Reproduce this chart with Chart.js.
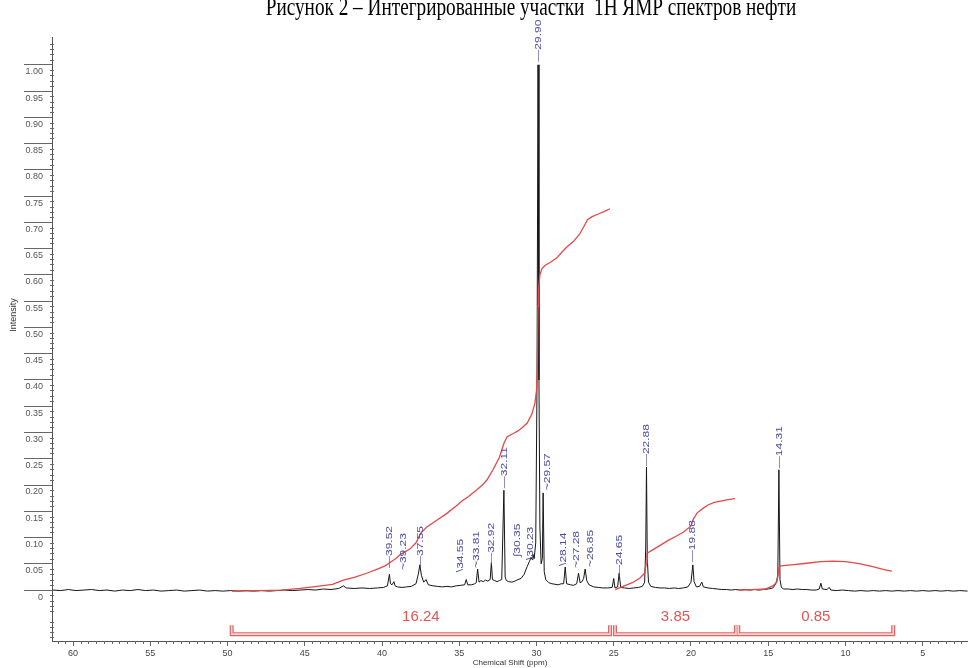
<!DOCTYPE html>
<html><head><meta charset="utf-8">
<script src="https://cdn.jsdelivr.net/npm/chart.js@4"></script>
<style>html,body{margin:0;padding:0;background:#fff;}canvas{display:block;}</style>
</head><body>
<canvas id="c" width="968" height="668"></canvas>
<script>
const TITLE = 'Рисунок 2 – Интегрированные участки  1Н ЯМР спектров нефти';
const X_TITLE = 'Chemical Shift (ppm)';
const Y_TITLE = 'Intensity';
const X_TICKS = [60, 55, 50, 45, 40, 35, 30, 25, 20, 15, 10, 5];
const Y_TICKS = [0, 0.05, 0.10, 0.15, 0.20, 0.25, 0.30, 0.35, 0.40, 0.45, 0.50, 0.55, 0.60, 0.65, 0.70, 0.75, 0.80, 0.85, 0.90, 0.95, 1.00];

// spectrum: [ppm, intensity]
const SPECTRUM = [
 [61.3,0.000],[60.8,-0.001],[60.3,0.001],[59.8,-0.001],[59.3,0.000],[58.8,0.001],[58.3,-0.001],[57.8,0.000],
 [57.3,-0.002],[56.8,0.000],[56.3,-0.001],[55.8,0.001],[55.3,-0.001],[54.8,0.000],[54.3,-0.002],[53.8,-0.001],
 [53.3,0.000],[52.8,-0.002],[52.3,-0.001],[51.8,0.000],[51.3,-0.002],[50.8,-0.001],[50.3,-0.002],[49.8,-0.001],
 [49.3,-0.002],[48.8,-0.001],[48.3,-0.002],[47.8,-0.001],[47.3,-0.002],[46.8,-0.001],[46.3,0.000],[45.8,-0.001],
 [45.3,0.000],[44.8,0.001],[44.3,0.000],[43.8,0.002],[43.3,0.001],[42.8,0.003],[42.5,0.008],[42.3,0.004],
 [41.8,0.003],[41.3,0.004],[40.8,0.003],[40.3,0.004],[39.9,0.005],[39.65,0.008],[39.52,0.030],[39.45,0.012],
 [39.35,0.010],[39.23,0.016],[39.15,0.008],[39.0,0.006],[38.7,0.005],[38.4,0.006],[38.1,0.007],[37.8,0.012],
 [37.65,0.030],[37.55,0.048],[37.45,0.028],[37.3,0.015],[37.15,0.020],[37.0,0.010],[36.7,0.008],[36.4,0.007],
 [36.1,0.006],[35.8,0.007],[35.5,0.006],[35.2,0.008],[34.9,0.009],[34.65,0.010],[34.55,0.020],[34.45,0.010],
 [34.2,0.010],[34.0,0.012],[33.9,0.014],[33.81,0.040],[33.72,0.015],[33.6,0.018],[33.45,0.016],[33.3,0.019],
 [33.15,0.017],[33.0,0.020],[32.92,0.052],[32.85,0.020],[32.7,0.018],[32.55,0.016],[32.4,0.018],[32.25,0.020],
 [32.11,0.190],[32.03,0.025],[31.95,0.018],[31.8,0.016],[31.6,0.015],[31.4,0.017],[31.2,0.020],[31.0,0.022],
 [30.8,0.030],[30.6,0.045],[30.45,0.055],[30.35,0.062],[30.28,0.058],[30.23,0.068],[30.15,0.060],[30.05,0.090],
 [29.97,0.380],[29.90,1.000],[29.84,0.400],[29.78,0.120],[29.70,0.050],[29.62,0.060],[29.57,0.185],[29.50,0.035],
 [29.4,0.020],[29.2,0.014],[29.0,0.012],[28.8,0.011],[28.6,0.010],[28.4,0.012],[28.24,0.012],[28.14,0.044],
 [28.05,0.012],[27.8,0.010],[27.6,0.009],[27.4,0.012],[27.28,0.032],[27.18,0.014],[27.05,0.016],[26.95,0.022],
 [26.85,0.040],[26.75,0.018],[26.6,0.010],[26.3,0.006],[26.0,0.005],[25.7,0.004],[25.4,0.004],[25.1,0.005],
 [25.0,0.022],[24.92,0.004],[24.75,0.006],[24.65,0.032],[24.55,0.005],[24.3,0.004],[24.0,0.003],[23.7,0.004],
 [23.4,0.005],[23.15,0.007],[23.0,0.015],[22.93,0.080],[22.88,0.234],[22.83,0.060],[22.75,0.015],[22.6,0.007],
 [22.3,0.005],[22.0,0.004],[21.7,0.004],[21.4,0.003],[21.1,0.004],[20.8,0.003],[20.5,0.004],[20.2,0.006],
 [20.0,0.015],[19.88,0.048],[19.8,0.016],[19.65,0.006],[19.45,0.007],[19.3,0.015],[19.2,0.006],[18.9,0.004],
 [18.6,0.003],[18.3,0.002],[18.0,0.001],[17.7,0.001],[17.4,0.000],[17.1,0.001],[16.8,0.000],[16.5,0.001],
 [16.2,0.000],[15.9,0.001],[15.6,0.000],[15.3,0.001],[15.0,0.002],[14.7,0.004],[14.55,0.010],[14.45,0.018],
 [14.38,0.030],[14.31,0.229],[14.24,0.020],[14.15,0.005],[14.0,0.002],[13.7,0.002],[13.4,0.001],[13.1,0.002],
 [12.8,0.001],[12.5,0.001],[12.2,0.000],[11.9,0.000],[11.7,0.002],[11.59,0.013],[11.5,0.002],[11.2,0.001],
 [11.05,0.005],[10.95,0.000],[10.6,-0.001],[10.2,0.000],[9.8,-0.001],[9.4,-0.002],[9.0,-0.001],[8.6,-0.002],
 [8.2,-0.001],[7.8,-0.002],[7.4,-0.001],[7.0,-0.002],[6.6,-0.001],[6.2,-0.002],[5.8,-0.001],[5.4,-0.002],
 [5.0,-0.001],[4.6,-0.002],[4.2,-0.001],[3.8,-0.002],[3.4,-0.001],[3.0,-0.002],[2.6,-0.001],[2.1,-0.002]
];

// integral curves: [ppm, value]
const INTEGRAL_1 = [
 [49.7,-0.002],[48.0,-0.001],[46.5,0.000],[45.3,0.003],[44.2,0.007],[43.2,0.011],[42.5,0.019],[41.8,0.024],
 [41.0,0.032],[40.3,0.040],[39.8,0.046],[39.5,0.052],[39.1,0.060],[38.8,0.068],[38.2,0.078],[37.8,0.090],
 [37.5,0.108],[37.1,0.120],[36.5,0.132],[35.8,0.146],[35.2,0.160],[34.8,0.170],[34.4,0.178],[33.9,0.190],
 [33.5,0.200],[33.2,0.210],[32.8,0.230],[32.4,0.253],[32.1,0.280],[31.9,0.292],[31.5,0.298],[31.2,0.303],
 [30.9,0.310],[30.6,0.318],[30.3,0.335],[30.1,0.356],[30.0,0.380],[29.95,0.420],[29.9,0.540],[29.86,0.575],
 [29.78,0.600],[29.65,0.612],[29.45,0.618],[29.1,0.624],[28.7,0.632],[28.3,0.645],[28.0,0.654],[27.6,0.664],
 [27.2,0.678],[26.9,0.694],[26.7,0.705],[26.4,0.711],[26.0,0.716],[25.6,0.721],[25.25,0.726]
];
const INTEGRAL_2 = [
 [24.9,0.001],[24.4,0.007],[23.8,0.014],[23.3,0.023],[23.0,0.032],[22.9,0.050],[22.85,0.070],[22.5,0.076],
 [22.0,0.085],[21.5,0.094],[21.0,0.102],[20.5,0.110],[20.0,0.122],[19.85,0.135],[19.6,0.147],[19.2,0.156],
 [18.9,0.162],[18.5,0.167],[18.0,0.170],[17.6,0.172],[17.15,0.174]
];
const INTEGRAL_3 = [
 [16.95,0.000],[16.0,0.001],[15.2,0.002],[14.7,0.008],[14.45,0.015],[14.35,0.030],[14.3,0.044],[14.2,0.046],
 [13.5,0.048],[12.5,0.051],[11.6,0.054],[10.8,0.055],[10.0,0.054],[9.2,0.051],[8.3,0.045],[7.5,0.039],[7.0,0.036]
];

// integration regions
const REGION_FROM = [49.73, 24.92, 16.94];
const REGION_TO = [25.24, 17.09, 6.91];
const REGION_VALUES = ['16.24', '3.85', '0.85'];

// peak labels
const PEAK_SHIFTS = [39.52, 39.23, 37.55, 34.55, 33.81, 32.92, 32.11, 30.35, 30.23, 29.90, 29.57, 28.14, 27.28, 26.85, 24.65, 22.88, 19.88, 14.31];
const PEAK_LABEL_BASE = [0.042, 0.038, 0.042, 0.034, 0.042, 0.048, 0.194, 0.063, 0.057, 1.006, 0.190, 0.046, 0.042, 0.044, 0.025, 0.236, 0.053, 0.232];

// layout / style (not data)
const LABEL_DX = [0, 9, 0, -6, -1, 0, 0, -14, -3, 0, 4, -2, -2, 5, 0, 0, 0, 0];
const LABEL_LEAD = ['—','~','—','\\','~','—','—','∫','\\','—','~','\\','~','~','—','—','—','—'];
const BAR_Y = -0.084, BAR_TICK_Y = -0.067, REGION_LABEL_Y = -0.051;
const TITLE_CX = 531, TITLE_SQUEEZE = 0.74, Y_TITLE_SHIFT = -24;

const pts = arr => arr.map(p => ({x: p[0], y: p[1]}));
const barData = [];
REGION_FROM.forEach((f, i) => {
  const t = REGION_TO[i];
  barData.push({x: f, y: BAR_TICK_Y}, {x: f, y: BAR_Y}, {x: t, y: BAR_Y}, {x: t, y: BAR_TICK_Y}, {x: (t + (REGION_FROM[i+1] ?? t)) / 2, y: null});
});

const RED = '#e54848';

const adjust = {
  id: 'adjust',
  afterLayout(chart) {
    const tb = chart.titleBlock;
    if (tb && !tb._wrapped) {
      const orig = tb.draw;
      tb.draw = function(...a) {
        const c = chart.ctx;
        c.save();
        c.translate(TITLE_CX, 0);
        c.scale(TITLE_SQUEEZE, 1);
        c.translate(-(this.left + this.right) / 2, 0);
        orig.apply(this, a);
        c.restore();
      };
      tb._wrapped = true;
    }
    const ys = chart.scales.y;
    if (ys && !ys._wrapped) {
      const o = ys.drawTitle;
      ys.drawTitle = function(...a) {
        const c = chart.ctx;
        c.save(); c.translate(0, Y_TITLE_SHIFT); o.apply(this, a); c.restore();
      };
      ys._wrapped = true;
    }
  }
};

const annot = {
  id: 'annot',
  afterDraw(chart) {
    const {ctx, scales: {x, y}} = chart;
    ctx.save();
    ctx.strokeStyle = '#666';
    ctx.lineWidth = 1;
    ctx.beginPath();
    for (let i = 5; i <= 122; i++) {
      if (i % 10 === 0) continue;
      const px = Math.round(x.getPixelForValue(i / 2)) + 0.5;
      if (px < x.left || px > x.right) continue;
      ctx.moveTo(px, y.bottom); ctx.lineTo(px, y.bottom + 3);
    }
    for (let i = -9; i <= 105; i++) {
      if (i % 5 === 0) continue;
      const py = Math.round(y.getPixelForValue(i / 100)) + 0.5;
      ctx.moveTo(x.left - 2, py); ctx.lineTo(x.left + 2, py);
    }
    ctx.stroke();
    // peak labels
    ctx.font = '12px "Liberation Sans", Arial, sans-serif';
    ctx.fillStyle = '#4d4da3';
    ctx.textBaseline = 'middle';
    ctx.textAlign = 'left';
    PEAK_SHIFTS.forEach((p, i) => {
      const px = x.getPixelForValue(p) + LABEL_DX[i];
      const py = y.getPixelForValue(PEAK_LABEL_BASE[i]);
      ctx.save();
      ctx.translate(px, py);
      ctx.rotate(-Math.PI / 2);
      ctx.scale(1, 0.8);
      ctx.fillText(LABEL_LEAD[i] + p.toFixed(2), 0, 0);
      ctx.restore();
    });
    // region values
    ctx.font = '15px "Liberation Sans", Arial, sans-serif';
    ctx.fillStyle = '#e25555';
    ctx.textAlign = 'center';
    REGION_VALUES.forEach((v, i) => {
      const px = (x.getPixelForValue(REGION_FROM[i]) + x.getPixelForValue(REGION_TO[i])) / 2;
      ctx.fillText(v, px, y.getPixelForValue(REGION_LABEL_Y));
    });
    ctx.restore();
  }
};

new Chart(document.getElementById('c'), {
  type: 'line',
  data: {
    datasets: [
      {data: pts(SPECTRUM), borderColor: '#151515', borderWidth: 1, pointRadius: 0, tension: 0, order: 2},
      {data: pts(INTEGRAL_1), borderColor: RED, borderWidth: 1.3, pointRadius: 0, tension: 0, order: 1},
      {data: pts(INTEGRAL_2), borderColor: RED, borderWidth: 1.3, pointRadius: 0, tension: 0, order: 1},
      {data: pts(INTEGRAL_3), borderColor: RED, borderWidth: 1.3, pointRadius: 0, tension: 0, order: 1},
      {data: barData, borderColor: '#e06464', borderWidth: 4, pointRadius: 0, spanGaps: false, order: 1},
      {data: barData, borderColor: '#fbd2d2', borderWidth: 1.6, pointRadius: 0, spanGaps: false, order: 0}
    ]
  },
  options: {
    responsive: false,
    animation: false,
    devicePixelRatio: 1,
    layout: {padding: 0},
    plugins: {
      legend: {display: false},
      tooltip: {enabled: false},
      title: {
        display: true, text: TITLE, color: '#000',
        font: {family: '"Liberation Serif", "Times New Roman", serif', size: 26, weight: 'normal', lineHeight: 1.2},
        padding: {top: -7, bottom: 12.8}
      }
    },
    scales: {
      x: {
        type: 'linear', reverse: true, min: 2.07, max: 61.36,
        afterBuildTicks: s => { s.ticks = X_TICKS.map(v => ({value: v})); },
        afterFit: s => { s.height = 27; s.paddingLeft = 0; s.paddingRight = 0; },
        ticks: {autoSkip: false, maxRotation: 0, padding: 2, color: '#444',
          font: {family: '"Liberation Sans", Arial, sans-serif', size: 9}, callback: v => String(v)},
        grid: {drawOnChartArea: false, tickLength: 5, color: '#666'},
        border: {color: '#555'},
        title: {display: true, text: X_TITLE, color: '#333',
          font: {family: '"Liberation Sans", Arial, sans-serif', size: 8}, padding: {top: 0, bottom: 0}}
      },
      y: {
        type: 'linear', min: -0.097, max: 1.053,
        afterBuildTicks: s => { s.ticks = Y_TICKS.map(v => ({value: v})); },
        afterFit: s => { s.width = 52; s.paddingTop = 0; s.paddingBottom = 0; },
        ticks: {padding: -19, labelOffset: 7, color: '#555',
          font: {family: '"Liberation Sans", Arial, sans-serif', size: 9},
          callback: v => v === 0 ? '0' : v.toFixed(2)},
        grid: {drawOnChartArea: false, tickLength: 28, color: '#666'},
        border: {color: '#555'},
        title: {display: true, text: Y_TITLE, color: '#333',
          font: {family: '"Liberation Sans", Arial, sans-serif', size: 9}, padding: {top: 8, bottom: 0}}
      }
    }
  },
  plugins: [adjust, annot]
});
</script>
</body></html>
